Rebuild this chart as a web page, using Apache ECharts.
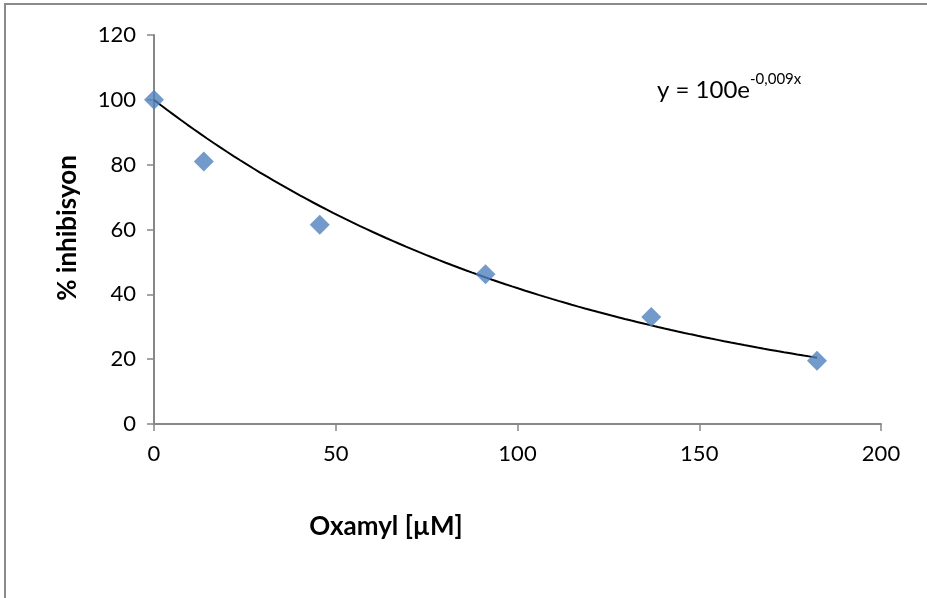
<!DOCTYPE html>
<html>
<head>
<meta charset="utf-8">
<script src="https://cdn.jsdelivr.net/npm/echarts@6/dist/echarts.min.js"></script>
<style>html,body{margin:0;padding:0;background:#fff;}#c{width:927px;height:598px;}</style>
</head>
<body>
<div id="c"></div>
<script>
// Data
var concentration = [0, 13.7, 45.6, 91.2, 136.8, 182.4];   // Oxamyl [µM]
var inhibition    = [100, 81, 61.5, 46.2, 33, 19.5];       // % inhibisyon
var xTicks = [0, 50, 100, 150, 200];
var yTicks = [0, 20, 40, 60, 80, 100, 120];
// Exponential trendline coefficients (y = A e^(-K x))
var fitA = 100;
var fitK = 0.0087;
var equationMain = 'y = 100e';
var equationExp = '-0,009x';

var points = concentration.map(function (x, i) { return [x, inhibition[i]]; });
var trend = [];
var xMaxData = concentration[concentration.length - 1];
for (var i = 0; i <= 100; i++) {
  var x = xMaxData * i / 100;
  trend.push([x, fitA * Math.exp(-fitK * x)]);
}

var font = 'Lato, "Open Sans", sans-serif';
var axisColor = '#878787';
var chart = echarts.init(document.getElementById('c'), null, {renderer: 'canvas'});
chart.setOption({
  animation: false,
  backgroundColor: '#ffffff',
  grid: {left: 154, right: 46, top: 35, bottom: 174, containLabel: false},
  xAxis: {
    type: 'value', min: xTicks[0], max: xTicks[xTicks.length - 1], interval: 50,
    axisLine: {show: true, onZero: false, lineStyle: {color: axisColor, width: 2}},
    axisTick: {show: true, length: 7, lineStyle: {color: axisColor, width: 1.5}},
    splitLine: {show: false},
    axisLabel: {color: '#000', fontSize: 22, fontFamily: font, margin: 19}
  },
  yAxis: {
    type: 'value', min: yTicks[0], max: yTicks[yTicks.length - 1], interval: 20,
    axisLine: {show: true, onZero: false, lineStyle: {color: axisColor, width: 2}},
    axisTick: {show: true, length: 7, lineStyle: {color: axisColor, width: 1.5}},
    splitLine: {show: false},
    axisLabel: {color: '#000', fontSize: 22, fontFamily: font, margin: 18}
  },
  series: [
    {
      type: 'line', data: trend, showSymbol: false, symbol: 'none', smooth: false,
      lineStyle: {color: '#000', width: 2}, z: 2
    },
    {
      type: 'scatter', data: points, symbol: 'diamond', symbolSize: [20, 20],
      itemStyle: {color: '#4F81BD'}, z: 3
    }
  ],
  graphic: [
    {type: 'rect', shape: {x: 5, y: 4, width: 1000, height: 1000}, silent: true,
     style: {fill: 'none', stroke: '#8a8a8a', lineWidth: 2}},
    {type: 'text', x: 386, y: 527,
     style: {text: 'Oxamyl [µM]', fontSize: 26, fontWeight: 'bold', fontFamily: font, fill: '#000',
             align: 'center', verticalAlign: 'middle'}},
    {type: 'text', x: 68, y: 228, rotation: Math.PI / 2,
     style: {text: '% inhibisyon', fontSize: 26, fontWeight: 'bold', fontFamily: font, fill: '#000',
             align: 'center', verticalAlign: 'middle'}},
    {type: 'text', left: 657, top: 72,
     style: {text: '{a|' + equationMain + '}{b|' + equationExp + '}', fontFamily: font, fill: '#000',
       rich: {
         a: {fontSize: 24, fontFamily: font, lineHeight: 30, verticalAlign: 'bottom'},
         b: {fontSize: 15, fontFamily: font, lineHeight: 30, verticalAlign: 'top'}
       }}}
  ]
});
</script>
</body>
</html>
